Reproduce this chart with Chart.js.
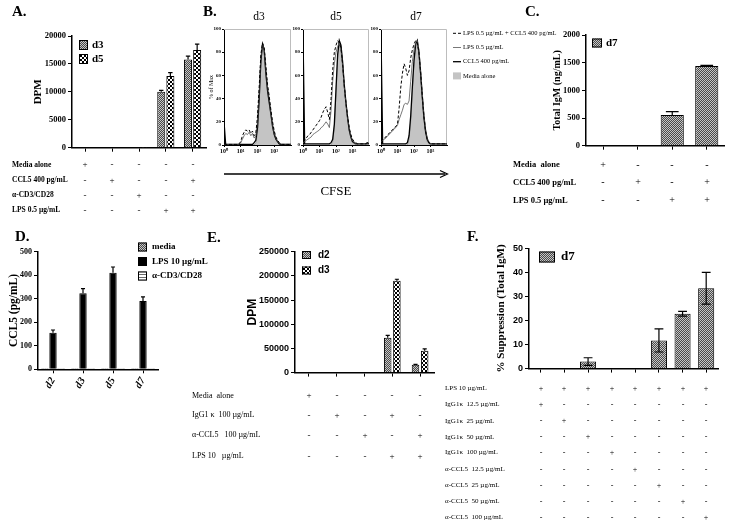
<!DOCTYPE html>
<html><head><meta charset="utf-8">
<script src="https://cdn.jsdelivr.net/npm/chart.js@4.4.1/dist/chart.umd.min.js"></script>
<style>
html,body{margin:0;padding:0;background:#fff;}
body{width:729px;height:528px;position:relative;overflow:hidden;}
canvas{position:absolute;}
.t{position:absolute;white-space:pre;color:#000;filter:grayscale(1);will-change:transform;}
</style></head><body>
<svg width="729" height="528" style="position:absolute;left:0;top:0">
<line x1="224" y1="174" x2="445" y2="174" stroke="#000" stroke-width="1.4"/>
<polyline points="440,170.5 447.5,174 440,177.5" fill="none" stroke="#000" stroke-width="1.2"/>
</svg>
<script>
// ---------------- DATA ----------------
// Panel A
const catsA = ['Media alone','CCL5 400 pg/mL','α-CD3/CD28','LPS 0.5 µg/mL','LPS + CCL5'];
const dpmA_d3 = [60, 80, 100, 10000, 15800];
const dpmA_d5 = [50, 60, 120, 12850, 17500];
const errA_d3 = [0, 0, 0, 250, 600];
const errA_d5 = [0, 0, 0, 600, 1050];
const yTicksA = [0, 5000, 10000, 15000, 20000];
const rowsA = ['Media alone','CCL5 400 pg/mL','α-CD3/CD28','LPS 0.5 µg/mL'];
const signsA = [['+','-','-','-','-'],['-','+','-','-','+'],['-','-','+','-','-'],['-','-','-','+','+']];

// Panel B (CFSE histograms, x = log10 CFSE)
const cfseLog = [0,0.1,0.2,0.3,0.4,0.5,0.6,0.7,0.8,0.9,1,1.1,1.2,1.3,1.4,1.5,1.6,1.7,1.8,1.9,2,2.1,2.2,2.3,2.4,2.5,2.6,2.7,2.8,2.9,3,3.1,3.2,3.3,3.4,3.5,3.6,3.7,3.8,3.9,4];
const cfseTicks = [0,1,2,3];
const cfseTickLabels = ['10⁰','10¹','10²','10³'];
const pctTicks = [0,20,40,60,80,100];
const histTitles = ['d3','d5','d7'];
const histLabels = ['LPS 0.5 µg/mL + CCL5 400 pg/mL','LPS 0.5 µg/mL','CCL5 400 pg/mL','Media alone'];
const lpsCcl5_d3 = [0,0.5,0.5,0.5,0.5,0.5,0.5,0.5,0.5,1,3,8,11,13,12,13,10,12,8,10,25,50,78,88,84,68,52,42,30,20,12,7,4,2,0.5,0.5,0.5,0.5,0.5,0.5,0.5];
const lps_d3      = [0,0.5,0.5,0.5,0.5,0.5,0.5,0.5,0.5,0.5,2,5,8,10,9,11,8,10,6,8,20,45,75,86,82,65,50,40,28,18,10,6,3,2,0.5,0.5,0.5,0.5,0.5,0.5,0.5];
const ccl5_d3     = [20,0.5,0.5,0.5,0.5,0.5,0.5,0.5,0.5,0.5,0.5,0.5,0.5,0.5,0.5,0.5,0.5,0.5,2,4,15,40,72,87,82,62,47,37,27,16,9,5,3,1,0.5,0.5,0.5,0.5,0.5,0.5,0.5];
const media_d3    = [0,0,0,0,0,0,0,0,0,0,0,0,0,0,0,0,0,0,0,2,10,35,70,88,80,60,45,35,25,15,9,5,2,1,0,0,0,0,0,0,0];
const lpsCcl5_d5 = [3,4,6,8,9,11,13,15,17,19,21,24,28,31,33,28,22,40,65,80,86,90,88,84,70,52,37,25,15,9,5,3,2,1,1,1,1,1,1,1,1];
const lps_d5      = [2,3,4,5,6,7,9,10,11,12,13,15,16,18,20,18,15,30,55,70,80,85,88,82,68,50,36,24,14,8,4,2,1,1,1,1,1,1,1,1,1];
const ccl5_d5     = [95,1,1,1,1,1,1,1,1,1,1,1,1,1,1,1,1,2,5,18,48,78,90,86,72,52,37,24,13,7,3,2,1,1,1,1,1,1,1,2,1];
const media_d5    = [0,0,0,0,0,0,0,0,0,0,0,0,0,0,0,0,0,0,3,15,45,75,88,85,70,50,35,22,12,6,2,1,0,0,0,0,0,0,0,0,0];
const lpsCcl5_d7 = [3,5,6,7,9,10,12,13,15,16,18,32,50,62,70,66,60,64,75,82,87,90,88,80,63,43,25,12,5,2,1,1,1,1,1,1,1,1,1,1,1];
const lps_d7      = [3,4,5,6,8,9,11,12,14,15,17,22,26,30,35,36,35,38,55,72,82,88,90,82,65,45,27,14,6,3,1,1,1,1,1,1,1,1,1,1,1];
const ccl5_d7     = [95,1,1,1,1,1,1,1,1,1,1,1,1,1,1,1,2,8,25,50,73,87,90,80,62,42,24,12,5,2,1,1,1,1,1,1,1,1,1,1,1];
const media_d7    = [0,0,0,0,0,0,0,0,0,0,0,0,0,0,0,0,0,5,20,45,70,85,88,78,60,40,22,10,3,1,0,0,0,0,0,0,0,0,0,0,0];

// Panel C
const catsC = ['Media alone','CCL5','LPS','LPS + CCL5'];
const igmC_d7 = [0, 0, 555, 1440];
const errC_d7 = [0, 0, 60, 10];
const yTicksC = [0, 500, 1000, 1500, 2000];
const rowsC = ['Media  alone','CCL5 400 pg/mL','LPS 0.5 µg/mL'];
const signsC = [['+','-','-','-'],['-','+','-','+'],['-','-','+','+']];

// Panel D
const daysD = ['d2','d3','d5','d7'];
const ccl5D_media = [4, 4, 4, 4];
const ccl5D_lps = [155, 323, 410, 290];
const errD_lps = [12, 20, 25, 18];
const ccl5D_cd3 = [4, 4, 4, 4];
const yTicksD = [0, 100, 200, 300, 400, 500];

// Panel E
const catsE = ['Media alone','IgG1κ','α-CCL5','LPS + IgG1κ','LPS + α-CCL5'];
const dpmE_d2 = [0, 0, 0, 72000, 16000];
const dpmE_d3 = [0, 0, 0, 190000, 45000];
const errE_d2 = [0, 0, 0, 5000, 1000];
const errE_d3 = [0, 0, 0, 3000, 4000];
const yTicksE = [0, 50000, 100000, 150000, 200000, 250000];
const rowsE = ['Media  alone','IgG1 κ  100 µg/mL','α-CCL5   100 µg/mL','LPS 10   µg/mL'];
const signsE = [['+','-','-','-','-'],['-','+','-','+','-'],['-','-','+','-','+'],['-','-','-','+','+']];

// Panel F
const catsF = ['IgG1κ 12.5','IgG1κ 25','IgG1κ 50','IgG1κ 100','α-CCL5 12.5','α-CCL5 25','α-CCL5 50','α-CCL5 100'];
const supF_d7 = [0, 0, 2.9, 0, 0, 11.7, 22.8, 33.4];
const errF_d7 = [0, 0, 1.6, 0, 0, 4.8, 1.0, 6.6];
const yTicksF = [0, 10, 20, 30, 40, 50];
const rowsF = ['LPS 10 µg/mL','IgG1κ  12.5 µg/mL','IgG1κ  25 µg/mL','IgG1κ  50 µg/mL','IgG1κ  100 µg/mL','α-CCL5  12.5 µg/mL','α-CCL5  25 µg/mL','α-CCL5  50 µg/mL','α-CCL5  100 µg/mL'];
const signsF = [
 ['+','+','+','+','+','+','+','+'],
 ['+','-','-','-','-','-','-','-'],
 ['-','+','-','-','-','-','-','-'],
 ['-','-','+','-','-','-','-','-'],
 ['-','-','-','+','-','-','-','-'],
 ['-','-','-','-','+','-','-','-'],
 ['-','-','-','-','-','+','-','-'],
 ['-','-','-','-','-','-','+','-'],
 ['-','-','-','-','-','-','-','+']];

// ---------------- HELPERS ----------------
const SERIF = '"Liberation Serif","Times New Roman",serif';
const SANS = '"Liberation Sans",Arial,sans-serif';

function makePattern(kind){
  const c=document.createElement('canvas'); const x=c.getContext('2d');
  if(kind==='stipple'){c.width=2;c.height=2;x.fillStyle='#c6c6c6';x.fillRect(0,0,2,2);x.fillStyle='#4a4a4a';x.fillRect(0,0,1,1);x.fillRect(1,1,1,1);}
  else if(kind==='checker'){c.width=4;c.height=4;x.fillStyle='#000';x.fillRect(0,0,4,4);x.fillStyle='#fff';x.fillRect(0,0,2,2);x.fillRect(2,2,2,2);}
  else {c.width=2;c.height=3;x.fillStyle='#fff';x.fillRect(0,0,2,3);x.fillStyle='#6a6a6a';x.fillRect(0,1,2,1);}
  return x.createPattern(c,'repeat');
}
const PAT = {stipple:makePattern('stipple'), checker:makePattern('checker'), hstripe:makePattern('hstripe')};

function txt(s,x,y,size,style,align){
  const d=document.createElement('div'); d.className='t'; d.textContent=s;
  d.style.font=style+' '+size+'px '+SERIF; d.style.lineHeight=size+'px';
  d.style.top=(y-size/2-0.5)+'px';
  if(align==='center'){ d.style.left=(x-40)+'px'; d.style.width='80px'; d.style.textAlign='center'; }
  else { d.style.left=x+'px'; }
  document.body.appendChild(d);
}

const extras = {
  id:'extras',
  beforeDatasetsDraw(chart,args,o){
    if(!o.frame) return;
    const a=chart.chartArea, ctx=chart.ctx;
    ctx.save(); ctx.strokeStyle='#bdbdbd'; ctx.lineWidth=1;
    ctx.beginPath(); ctx.moveTo(a.left,a.top+0.5); ctx.lineTo(a.right-0.5,a.top+0.5); ctx.lineTo(a.right-0.5,a.bottom); ctx.stroke();
    ctx.restore();
  },
  afterDatasetsDraw(chart,args,o){
    const ctx=chart.ctx, yS=chart.scales.y;
    ctx.save(); ctx.strokeStyle='#000'; ctx.lineWidth=1.2;
    chart.data.datasets.forEach((ds,di)=>{
      if(!ds.errorBars) return;
      const meta=chart.getDatasetMeta(di);
      meta.data.forEach((bar,i)=>{
        const e=ds.errorBars[i]; if(!e) return;
        const v=ds.data[i];
        const y1=yS.getPixelForValue(v+e);
        const y2=o.errBoth? yS.getPixelForValue(Math.max(v-e,0)) : yS.getPixelForValue(v);
        const cw=Math.max(bar.width*0.55,4), x=bar.x;
        ctx.beginPath();
        ctx.moveTo(x,y1); ctx.lineTo(x,y2);
        ctx.moveTo(x-cw/2,y1); ctx.lineTo(x+cw/2,y1);
        if(o.errBoth){ctx.moveTo(x-cw/2,y2); ctx.lineTo(x+cw/2,y2);}
        ctx.stroke();
      });
    });
    ctx.restore();
  },
  afterDraw(chart,args,o){
    const ctx=chart.ctx;
    if(o.legend){
      const g=o.legend;
      chart.data.datasets.forEach((ds,i)=>{
        const yy=g.y+i*g.gap-o.T, xx=g.x-o.L;
        ctx.save();
        ctx.fillStyle=ds.backgroundColor; ctx.fillRect(xx,yy-g.h/2,g.w,g.h);
        ctx.strokeStyle='#000'; ctx.lineWidth=1; ctx.strokeRect(xx+0.5,yy-g.h/2+0.5,g.w-1,g.h-1);
        ctx.fillStyle='#000'; ctx.font=g.font; ctx.textBaseline='middle'; ctx.textAlign='left';
        ctx.fillText(ds.label, xx+g.w+g.dx, yy);
        ctx.restore();
      });
    }
    if(o.lineLegend){
      const g=o.lineLegend;
      chart.data.datasets.forEach((ds,i)=>{
        const yy=g.y+i*g.gap-o.T, xx=g.x-o.L;
        ctx.save();
        if(ds.fill){ ctx.fillStyle=ds.backgroundColor; ctx.fillRect(xx,yy-3.5,g.len,7); }
        else { ctx.strokeStyle=ds.borderColor; ctx.lineWidth=ds.borderWidth; ctx.setLineDash(ds.borderDash||[]);
          ctx.beginPath(); ctx.moveTo(xx,yy); ctx.lineTo(xx+g.len,yy); ctx.stroke(); ctx.setLineDash([]); }
        ctx.fillStyle='#000'; ctx.font=g.font; ctx.textBaseline='middle'; ctx.textAlign='left';
        ctx.fillText(ds.label, xx+g.len+2, yy);
        ctx.restore();
      });
    }
  }
};

function mk(box, plot, cfg, ex){
  const [L,T,W,H]=box;
  const c=document.createElement('canvas'); c.width=W; c.height=H;
  c.style.left=L+'px'; c.style.top=T+'px'; c.style.width=W+'px'; c.style.height=H+'px';
  document.body.appendChild(c);
  const o=cfg.options;
  o.responsive=false; o.animation=false; o.devicePixelRatio=1; o.maintainAspectRatio=false;
  o.layout={padding:{left:0,top:plot[1]-T,right:L+W-plot[2],bottom:0}};
  o.scales.y.afterFit=s=>{s.width=plot[0]-L;};
  o.scales.x.afterFit=s=>{s.height=T+H-plot[3];};
  o.plugins={legend:{display:false},tooltip:{enabled:false},extras:Object.assign({L,T},ex||{})};
  cfg.plugins=[extras];
  const ch=new Chart(c.getContext('2d'),cfg);
  ch._L=L; ch._T=T;
  return ch;
}

function yAxis(ticksArr,max,tickFont,title,titleFont,tl){
  return {min:0,max:max,
    afterBuildTicks:s=>{s.ticks=ticksArr.map(v=>({value:v}));},
    ticks:{font:tickFont,color:'#000',padding:2,callback:v=>String(v)},
    grid:{drawOnChartArea:false,drawTicks:true,tickLength:tl||4,color:'#000',lineWidth:1},
    border:{display:true,color:'#000',width:1.5},
    title:title?{display:true,text:title,font:titleFont,color:'#000',padding:0}:{display:false}};
}
function xCat(extra){
  return Object.assign({ticks:{display:false},
    grid:{drawOnChartArea:false,drawTicks:true,tickLength:4,color:'#000',offset:false,lineWidth:1},
    border:{display:true,color:'#000',width:1.5}}, extra||{});
}
function bar(label,data,err,bg,cp,bp){
  return {label,data,errorBars:err,backgroundColor:bg,borderColor:'#000',borderWidth:1,categoryPercentage:cp,barPercentage:bp};
}
function table(ch,rows,signs,labelX,rowY,labelSize,labelStyle,signSize){
  rows.forEach((r,i)=>{
    txt(r,labelX,rowY[i],labelSize,labelStyle,'left');
    signs[i].forEach((s,j)=>{ txt(s, ch._L+ch.scales.x.getPixelForValue(j), rowY[i], signSize,'normal','center'); });
  });
}

// ---------------- PANEL A ----------------
const chA = mk([32,25,183,135],[72,36,206,147.7],{
  type:'bar',
  data:{labels:catsA,datasets:[
    bar('d3',dpmA_d3,errA_d3,PAT.stipple,0.68,0.88),
    bar('d5',dpmA_d5,errA_d5,PAT.checker,0.68,0.88)]},
  options:{scales:{x:xCat(),y:yAxis(yTicksA,20000,{family:SERIF,weight:'bold',size:8.5},'DPM',{family:SERIF,weight:'bold',size:11})}}
},{legend:{x:79,y:45,w:9,h:10,gap:14,font:'bold 11px '+SERIF,dx:4}});
table(chA,rowsA,signsA,12,[165,180.7,195.7,210.7],7.5,'bold',9);

// ---------------- PANEL B ----------------
function pts(ys){ return cfseLog.map((x,i)=>({x:x,y:ys[i]})); }
function hist(box,plot,sets,title,legend){
  const ya=yAxis(pctTicks,100,{family:SERIF,weight:'bold',size:5},title,{family:SERIF,size:6},2);
  ya.ticks.padding=1; ya.border.width=1;
  return mk(box,plot,{type:'line',
    data:{datasets:[
      {label:histLabels[0],data:pts(sets[0]),borderColor:'#000',borderWidth:1,borderDash:[3,2],fill:false},
      {label:histLabels[1],data:pts(sets[1]),borderColor:'#555',borderWidth:0.8,fill:false},
      {label:histLabels[2],data:pts(sets[2]),borderColor:'#000',borderWidth:1.3,fill:false},
      {label:histLabels[3],data:pts(sets[3]),borderColor:'#8a8a8a',borderWidth:0.7,backgroundColor:'#c4c4c4',fill:'origin'}]},
    options:{elements:{point:{radius:0},line:{tension:0}},
      scales:{
        x:{type:'linear',min:0,max:4,
          afterBuildTicks:s=>{s.ticks=cfseTicks.map(v=>({value:v}));},
          ticks:{font:{family:SERIF,weight:'bold',size:6},color:'#000',padding:1,callback:(v,i)=>cfseTickLabels[i]},
          grid:{drawOnChartArea:false,drawTicks:true,tickLength:2,color:'#000'},
          border:{display:true,color:'#000',width:1}},
        y:ya}}
  },{frame:true,lineLegend:legend});
}
hist([208,24,87,140],[224,29,291,145],[lpsCcl5_d3,lps_d3,ccl5_d3,media_d3],'% of Max',null);
hist([292,24,81,140],[303,29,369,145],[lpsCcl5_d5,lps_d5,ccl5_d5,media_d5],null,null);
hist([370,24,200,140],[381,29,447,145],[lpsCcl5_d7,lps_d7,ccl5_d7,media_d7],null,
  {x:453,y:33.3,gap:14.2,len:8,font:'6.5px '+SERIF});
[259,336,416].forEach((x,i)=>txt(histTitles[i],x,17,11.5,'normal','center'));
txt('CFSE',336,191,13,'normal','center');

// ---------------- PANEL C ----------------
const chC = mk([551,24,178,136],[586,35,724,145.7],{
  type:'bar',
  data:{labels:catsC,datasets:[bar('d7',igmC_d7,errC_d7,PAT.stipple,0.67,1)]},
  options:{scales:{x:xCat(),y:yAxis(yTicksC,2000,{family:SERIF,weight:'bold',size:8.5},'Total IgM (ng/mL)',{family:SERIF,weight:'bold',size:10})}}
},{legend:{x:592,y:43,w:10,h:9,gap:14,font:'bold 11px '+SERIF,dx:4}});
table(chC,rowsC,signsC,513,[165,182.7,200.3],8.5,'bold',10);

// ---------------- PANEL D ----------------
mk([7,240,202,170],[38,251.7,158,369.3],{
  type:'bar',
  data:{labels:daysD,datasets:[
    bar('media',ccl5D_media,null,PAT.stipple,0.8,0.92),
    bar('LPS 10 µg/mL',ccl5D_lps,errD_lps,'#000',0.8,0.92),
    bar('α-CD3/CD28',ccl5D_cd3,null,PAT.hstripe,0.8,0.92)]},
  options:{scales:{
    x:xCat({ticks:{display:true,autoSkip:false,minRotation:60,maxRotation:60,padding:2,color:'#000',font:{family:SERIF,weight:'bold',style:'italic',size:10.5}}}),
    y:yAxis(yTicksD,500,{family:SERIF,weight:'bold',size:8},'CCL5 (pg/mL)',{family:SERIF,weight:'bold',size:11.5})}}
},{legend:{x:138,y:247,w:9,h:9,gap:14.5,font:'bold 9px '+SERIF,dx:5}});

// ---------------- PANEL E ----------------
const chE = mk([245,240,195,140],[295,251.7,434,372.7],{
  type:'bar',
  data:{labels:catsE,datasets:[
    bar('d2',dpmE_d2,errE_d2,PAT.stipple,0.66,0.82),
    bar('d3',dpmE_d3,errE_d3,PAT.checker,0.66,0.82)]},
  options:{scales:{x:xCat(),y:yAxis(yTicksE,250000,{family:SANS,weight:'bold',size:9},'DPM',{family:SANS,weight:'bold',size:12})}}
},{legend:{x:302,y:255,w:9,h:8,gap:15.5,font:'bold 10px '+SANS,dx:7}});
table(chE,rowsE,signsE,192,[396,415.7,435.7,456.7],8,'normal',9);

// ---------------- PANEL F ----------------
const chF = mk([495,236,234,140],[529,248.3,718,368.7],{
  type:'bar',
  data:{labels:catsF,datasets:[bar('d7',supF_d7,errF_d7,PAT.stipple,0.68,1)]},
  options:{scales:{x:xCat(),y:yAxis(yTicksF,50,{family:SANS,weight:'bold',size:9},'% Suppression (Total IgM)',{family:SERIF,weight:'bold',size:11})}}
},{errBoth:true,legend:{x:539,y:257,w:16,h:11,gap:14,font:'bold 13px '+SERIF,dx:6}});
table(chF,rowsF,signsF,445,[389.3,405,421.7,437.7,453.3,470,486,502.3,518.3],7,'normal',8);

// ---------------- PANEL LETTERS ----------------
[['A.',12,12],['B.',203,12],['C.',525,12],['D.',15,237],['E.',207,238],['F.',467,237]]
  .forEach(p=>txt(p[0],p[1],p[2],15,'bold','left'));
</script>
</body></html>
